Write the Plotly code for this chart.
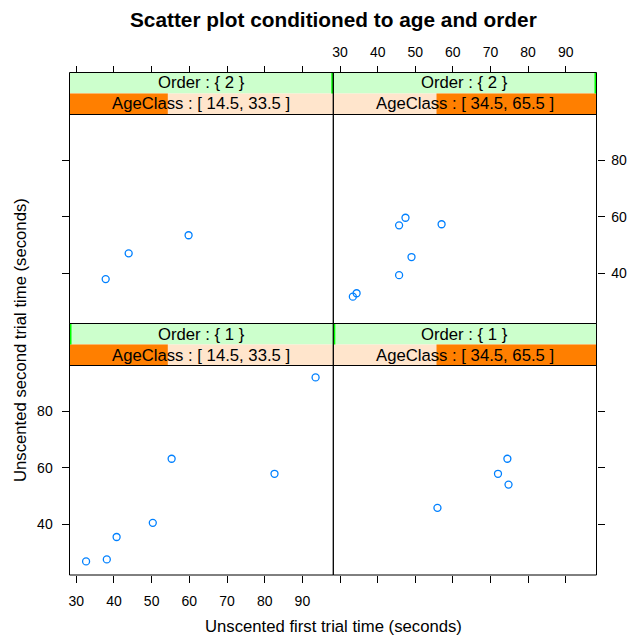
import plotly.graph_objects as go

# ---- data ----
# Order 1, AgeClass [14.5, 33.5]
o1_a1_first = [32.6, 38.1, 40.7, 50.3, 55.3, 82.6, 93.5]
o1_a1_second = [27.0, 27.7, 35.6, 40.6, 63.2, 57.9, 91.9]
# Order 1, AgeClass [34.5, 65.5]
o1_a2_first = [55.9, 72.0, 74.5, 74.8]
o1_a2_second = [45.9, 57.9, 63.2, 54.1]
# Order 2, AgeClass [14.5, 33.5]
o2_a1_first = [37.8, 43.9, 59.8]
o2_a1_second = [37.9, 47.0, 53.4]
# Order 2, AgeClass [34.5, 65.5]
o2_a2_first = [33.4, 34.4, 45.7, 49.0, 45.7, 47.4, 57.0]
o2_a2_second = [31.7, 32.9, 39.3, 45.7, 56.9, 59.6, 57.3]

age_levels = [[14.5, 33.5], [34.5, 65.5]]
order_levels = [[1, 1], [2, 2]]
x_ticks = [30, 40, 50, 60, 70, 80, 90]
y_ticks = [40, 60, 80]
x_range = [28.2, 98.2]
y_range = [22.2, 96.1]

W, H = 628, 637
def px(x):
    return x / W
def py(y):
    return 1 - y / H

# layout geometry (pixels)
colL = [69.5, 333.3]
colR = [333.3, 596.5]
rows = {
    "top": dict(s1=72.5, s2=93.5, p=114.5, b=323.5),
    "bot": dict(s1=323.5, s2=344.5, p=365.5, b=575.0),
}

panels = [
    ("x", "y", colL, "bot", 0, 0, o1_a1_first, o1_a1_second),
    ("x2", "y2", colR, "bot", 0, 1, o1_a2_first, o1_a2_second),
    ("x3", "y3", colL, "top", 1, 0, o2_a1_first, o2_a1_second),
    ("x4", "y4", colR, "top", 1, 1, o2_a2_first, o2_a2_second),
]

fig = go.Figure()
font = "Liberation Sans, Arial, Helvetica, sans-serif"
MK = "#0080ff"

for xa, ya, col, row, oi, ai, xs, ys in panels:
    fig.add_trace(go.Scatter(
        x=xs, y=ys, xaxis=xa, yaxis=ya, mode="markers",
        marker=dict(symbol="circle-open", size=7, color=MK, line=dict(width=1.3, color=MK)),
        showlegend=False, hoverinfo="x+y"))

shapes = []
annotations = []

amin = min(l[0] for l in age_levels)
amax = max(l[1] for l in age_levels)
omin = min(l[0] for l in order_levels)
omax = max(l[1] for l in order_levels)

def ann(text, x, y, size, angle=0):
    return dict(text=text, xref="paper", yref="paper", x=x, y=y,
                xanchor="center", yanchor="middle", showarrow=False, textangle=angle,
                font=dict(size=size, color="black", family=font))

for xa, ya, col, row, oi, ai, xs, ys in panels:
    r = rows[row]
    x0, x1 = px(col[0]), px(col[1])
    # Order strip
    shapes.append(dict(type="rect", xref="paper", yref="paper", x0=x0, x1=x1,
                       y0=py(r["s2"]), y1=py(r["s1"]), fillcolor="#ccffcc",
                       line=dict(width=0), layer="below"))
    f = (order_levels[oi][0] - omin) / (omax - omin)
    xi = col[0] + f * (col[1] - col[0])
    xi = min(max(xi, col[0] + 1), col[1] - 1)
    shapes.append(dict(type="line", xref="paper", yref="paper", x0=px(xi), x1=px(xi),
                       y0=py(r["s2"]), y1=py(r["s1"]), line=dict(color="#00ff00", width=2)))
    # AgeClass strip
    shapes.append(dict(type="rect", xref="paper", yref="paper", x0=x0, x1=x1,
                       y0=py(r["p"]), y1=py(r["s2"]), fillcolor="#ffe5cc",
                       line=dict(width=0), layer="below"))
    fa0 = (age_levels[ai][0] - amin) / (amax - amin)
    fa1 = (age_levels[ai][1] - amin) / (amax - amin)
    shapes.append(dict(type="rect", xref="paper", yref="paper",
                       x0=px(col[0] + fa0 * (col[1] - col[0])),
                       x1=px(col[0] + fa1 * (col[1] - col[0])),
                       y0=py(r["p"]), y1=py(r["s2"]), fillcolor="#ff7f00",
                       line=dict(width=0), layer="below"))
    # borders
    shapes.append(dict(type="rect", xref="paper", yref="paper", x0=x0, x1=x1,
                       y0=py(r["b"]), y1=py(r["s1"]), line=dict(color="black", width=1),
                       fillcolor="rgba(0,0,0,0)"))
    shapes.append(dict(type="line", xref="paper", yref="paper", x0=x0, x1=x1,
                       y0=py(r["p"]), y1=py(r["p"]), line=dict(color="black", width=1)))
    # strip texts
    lo, hi = order_levels[oi]
    annotations.append(ann("Order : { %d }" % lo, (x0 + x1) / 2, py((r["s1"] + r["s2"]) / 2), 16.7))
    annotations.append(ann("AgeClass : [ %s, %s ]" % (age_levels[ai][0], age_levels[ai][1]),
                           (x0 + x1) / 2, py((r["s2"] + r["p"]) / 2), 16.7))

annotations.append(ann("<b>Scatter plot conditioned to age and order</b>", px(333), py(20), 20.8))
annotations.append(ann("Unscented first trial time (seconds)", px(333), py(626), 16.7))
annotations.append(ann("Unscented second trial time (seconds)", px(20), py(340), 16.7, -90))

axcommon = dict(showgrid=False, zeroline=False, showline=False, ticks="outside",
                ticklen=7, tickwidth=1, tickcolor="black",
                tickfont=dict(size=14, color="black", family=font), fixedrange=True)

def xdom(col):
    return [px(col[0]), px(col[1])]
def ydom(row):
    r = rows[row]
    return [py(r["b"]), py(r["p"])]

fig.update_layout(
    width=W, height=H, margin=dict(l=0, r=0, t=0, b=0),
    paper_bgcolor="white", plot_bgcolor="white",
    shapes=shapes, annotations=annotations,
    xaxis=dict(domain=xdom(colL), range=x_range, anchor="y", side="bottom",
               tickvals=x_ticks, showticklabels=True, ticklabelstandoff=6, **axcommon),
    yaxis=dict(domain=ydom("bot"), range=y_range, anchor="x", side="left",
               tickvals=y_ticks, showticklabels=True, ticklabelstandoff=6, **axcommon),
    xaxis2=dict(domain=xdom(colR), range=x_range, anchor="y2", side="bottom",
                tickvals=x_ticks, showticklabels=False, **axcommon),
    yaxis2=dict(domain=ydom("bot"), range=y_range, anchor="x2", side="right",
                tickvals=y_ticks, showticklabels=False, **axcommon),
    xaxis3=dict(domain=xdom(colL), range=x_range, anchor="free", side="top",
                position=py(rows["top"]["s1"]),
                tickvals=x_ticks, showticklabels=False, **axcommon),
    yaxis3=dict(domain=ydom("top"), range=y_range, anchor="x3", side="left",
                tickvals=y_ticks, showticklabels=False, **axcommon),
    xaxis4=dict(domain=xdom(colR), range=x_range, anchor="free", side="top",
                position=py(rows["top"]["s1"]),
                tickvals=x_ticks, showticklabels=True, ticklabelstandoff=3, **axcommon),
    yaxis4=dict(domain=ydom("top"), range=y_range, anchor="x4", side="right",
                tickvals=y_ticks, showticklabels=True, ticklabelstandoff=4, **axcommon),
)

fig.write_html("out.html")
